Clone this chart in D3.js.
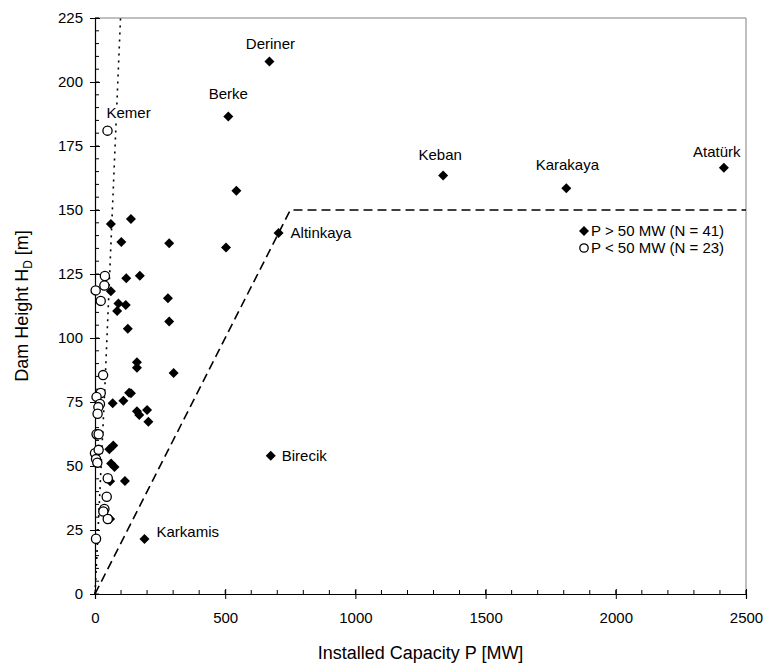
<!DOCTYPE html>
<html>
<head>
<meta charset="utf-8">
<script src="https://cdn.jsdelivr.net/npm/d3@7"></script>
<style>
  body { margin: 0; background: #fff; }
  text { font-family: "Liberation Sans", Arial, sans-serif; fill: #000; }
</style>
</head>
<body>
<svg id="chart" width="769" height="668"></svg>
<script>
// large dams, P > 50 MW
var bigCap = [670, 512, 1337, 1810, 2415, 705, 675, 190,
  543, 503,
  61, 138, 101, 285, 120, 172, 61, 280, 90, 118, 85, 285, 126, 161, 161, 302,
  131, 138, 109, 68, 161, 200, 170,
  205, 70, 55, 62, 75, 115, 58, 58];
var bigHeight = [208, 186.5, 163.5, 158.5, 166.5, 141, 54, 21.5,
  157.5, 135.4,
  144.5, 146.5, 137.5, 137, 123.3, 124.3, 118.3, 115.5, 113.5, 112.9, 110.5, 106.4, 103.6, 90.5, 88.4, 86.3,
  78.6, 78.4, 75.5, 74.5, 71.4, 71.9, 69.9,
  67.3, 58, 56.5, 51, 49.6, 44.1, 44, 29.3];
var bigNames = ["Deriner", "Berke", "Keban", "Karakaya", "Atatürk", "Altinkaya", "Birecik", "Karkamis"];

// small dams, P < 50 MW
var smallCap = [48, 38, 36, 2.5, 22, 31, 22, 6, 19, 13, 10, 6, 14, 0, 14, 4, 9, 49, 45, 36, 32, 49, 4];
var smallHeight = [181, 124.2, 120.5, 118.6, 114.5, 85.5, 78.5, 77, 74.2, 73, 70.4, 62.4, 62.4, 55, 56.3, 52.7, 51.3, 45.2, 38, 33.2, 32.2, 29.3, 21.6];
var smallNames = ["Kemer"];

// envelope lines
var dashedCap = [0, 750, 2500];
var dashedHeight = [0, 150, 150];
var dottedCap = [0, 38, 68, 98];
var dottedHeight = [0, 81, 153, 225];

var xTicks = [0, 500, 1000, 1500, 2000, 2500];
var yTicks = [0, 25, 50, 75, 100, 125, 150, 175, 200, 225];
var legendItems = ["P > 50 MW (N = 41)", "P < 50 MW (N = 23)"];

var svg = d3.select("#chart"),
    margin = {top: 18, right: 23, bottom: 74, left: 95},
    width = +svg.attr("width") - margin.left - margin.right,
    height = +svg.attr("height") - margin.top - margin.bottom;

var x = d3.scaleLinear().domain([0, 2500]).range([0, width]),
    y = d3.scaleLinear().domain([0, 225]).range([height, 0]);

var g = svg.append("g")
    .attr("transform", "translate(" + margin.left + "," + margin.top + ")");

// frame (top / right in grey)
g.append("path")
    .attr("d", "M0,0H" + width + "V" + height)
    .attr("fill", "none")
    .attr("stroke", "#808080")
    .attr("stroke-width", 1);

// minor ticks (inside)
g.append("g").selectAll("line")
    .data(d3.range(0, 2501, 100))
    .enter().append("line")
      .attr("x1", function(d) { return x(d); })
      .attr("x2", function(d) { return x(d); })
      .attr("y1", height)
      .attr("y2", height - 4)
      .attr("stroke", "#000");
g.append("g").selectAll("line")
    .data(d3.range(0, 226, 5))
    .enter().append("line")
      .attr("x1", 0)
      .attr("x2", 4)
      .attr("y1", function(d) { return y(d); })
      .attr("y2", function(d) { return y(d); })
      .attr("stroke", "#000");

// x axis
var xAxis = g.append("g")
    .attr("transform", "translate(0," + height + ")")
    .call(d3.axisBottom(x).tickValues(xTicks).tickFormat(d3.format("d")).tickSize(5).tickPadding(13));
xAxis.selectAll(".tick line").attr("y1", -5);
// y axis
var yAxis = g.append("g")
    .call(d3.axisLeft(y).tickValues(yTicks).tickFormat(d3.format("d")).tickSize(5).tickPadding(7));
yAxis.selectAll(".tick line").attr("x1", 5);

[xAxis, yAxis].forEach(function(a) {
  a.select(".domain").attr("stroke", "#000").attr("stroke-width", 1.2);
  a.selectAll(".tick line").attr("stroke", "#000");
  a.selectAll("text")
      .style("font-family", "Liberation Sans, Arial, sans-serif")
      .style("font-size", "15px")
      .attr("fill", "#000");
});

// envelope lines
var line = d3.line()
    .x(function(d) { return x(d[0]); })
    .y(function(d) { return y(d[1]); });

g.append("path")
    .datum(d3.zip(dashedCap, dashedHeight))
    .attr("d", line)
    .attr("fill", "none")
    .attr("stroke", "#000")
    .attr("stroke-width", 1.6)
    .attr("stroke-dasharray", "9,5");

g.append("path")
    .datum(d3.zip(dottedCap, dottedHeight))
    .attr("d", line)
    .attr("fill", "none")
    .attr("stroke", "#000")
    .attr("stroke-width", 1.6)
    .attr("stroke-dasharray", "2,5");

var diamond = d3.symbol().type(d3.symbolSquare).size(50);

// labels: offsets from the point
var labelStyle = {
  "Deriner":   {dx: 1,  dy: -13, anchor: "middle"},
  "Berke":     {dx: 0,  dy: -18, anchor: "middle"},
  "Keban":     {dx: -3, dy: -15, anchor: "middle"},
  "Karakaya":  {dx: 1,  dy: -18, anchor: "middle"},
  "Atatürk":   {dx: -7, dy: -11, anchor: "middle"},
  "Altinkaya": {dx: 12, dy: 5,   anchor: "start"},
  "Birecik":   {dx: 11, dy: 5,   anchor: "start"},
  "Karkamis":  {dx: 12, dy: -2,  anchor: "start"},
  "Kemer":     {dx: -1, dy: -13, anchor: "start"}
};

var bigData = d3.zip(bigCap, bigHeight);
var smallData = d3.zip(smallCap, smallHeight);

function addLabel(name, d, masked) {
  var s = labelStyle[name];
  var mask = masked ? g.append("rect").attr("fill", "#fff") : null;
  var t = g.append("text")
      .attr("x", x(d[0]) + s.dx)
      .attr("y", y(d[1]) + s.dy)
      .attr("text-anchor", s.anchor)
      .style("font-size", "15px")
      .text(name);
  if (mask) {
    var b = t.node().getBBox();
    mask.attr("x", b.x).attr("y", b.y + 2)
        .attr("width", b.width).attr("height", b.height - 3);
  }
}
smallNames.forEach(function(n, i) { addLabel(n, smallData[i], true); });

g.append("g").selectAll("path")
    .data(bigData)
    .enter().append("path")
      .attr("d", diamond)
      .attr("transform", function(d) { return "translate(" + x(d[0]) + "," + y(d[1]) + ") rotate(45)"; })
      .attr("fill", "#000");

g.append("g").selectAll("circle")
    .data(smallData)
    .enter().append("circle")
      .attr("cx", function(d) { return x(d[0]); })
      .attr("cy", function(d) { return y(d[1]); })
      .attr("r", 4.6)
      .attr("fill", "#fff")
      .attr("stroke", "#000")
      .attr("stroke-width", 1.3);

bigNames.forEach(function(n, i) { addLabel(n, bigData[i], false); });

// legend
var legend = g.append("g")
    .attr("transform", "translate(" + (x(2500) - 162) + "," + (y(150) + 21) + ")");
legend.append("path")
    .attr("d", diamond)
    .attr("transform", "rotate(45)")
    .attr("fill", "#000");
legend.append("circle")
    .attr("cy", 17)
    .attr("r", 4.2)
    .attr("fill", "#fff")
    .attr("stroke", "#000")
    .attr("stroke-width", 1.3);
legend.selectAll("text.leg")
    .data(legendItems)
    .enter().append("text")
      .attr("class", "leg")
      .attr("x", 7)
      .attr("y", function(d, i) { return i * 17 + 5; })
      .style("font-size", "15px")
      .text(function(d) { return d; });

// axis titles
svg.append("text")
    .attr("x", margin.left + width / 2)
    .attr("y", 659)
    .attr("text-anchor", "middle")
    .style("font-size", "18px")
    .text("Installed Capacity P [MW]");

var yt = svg.append("text")
    .attr("transform", "translate(28," + (margin.top + height / 2) + ") rotate(-90)")
    .attr("text-anchor", "middle")
    .style("font-size", "18px");
yt.append("tspan").text("Dam Height H");
yt.append("tspan").attr("dy", 4).style("font-size", "12px").text("D");
yt.append("tspan").attr("dy", -4).text(" [m]");
</script>
</body>
</html>
